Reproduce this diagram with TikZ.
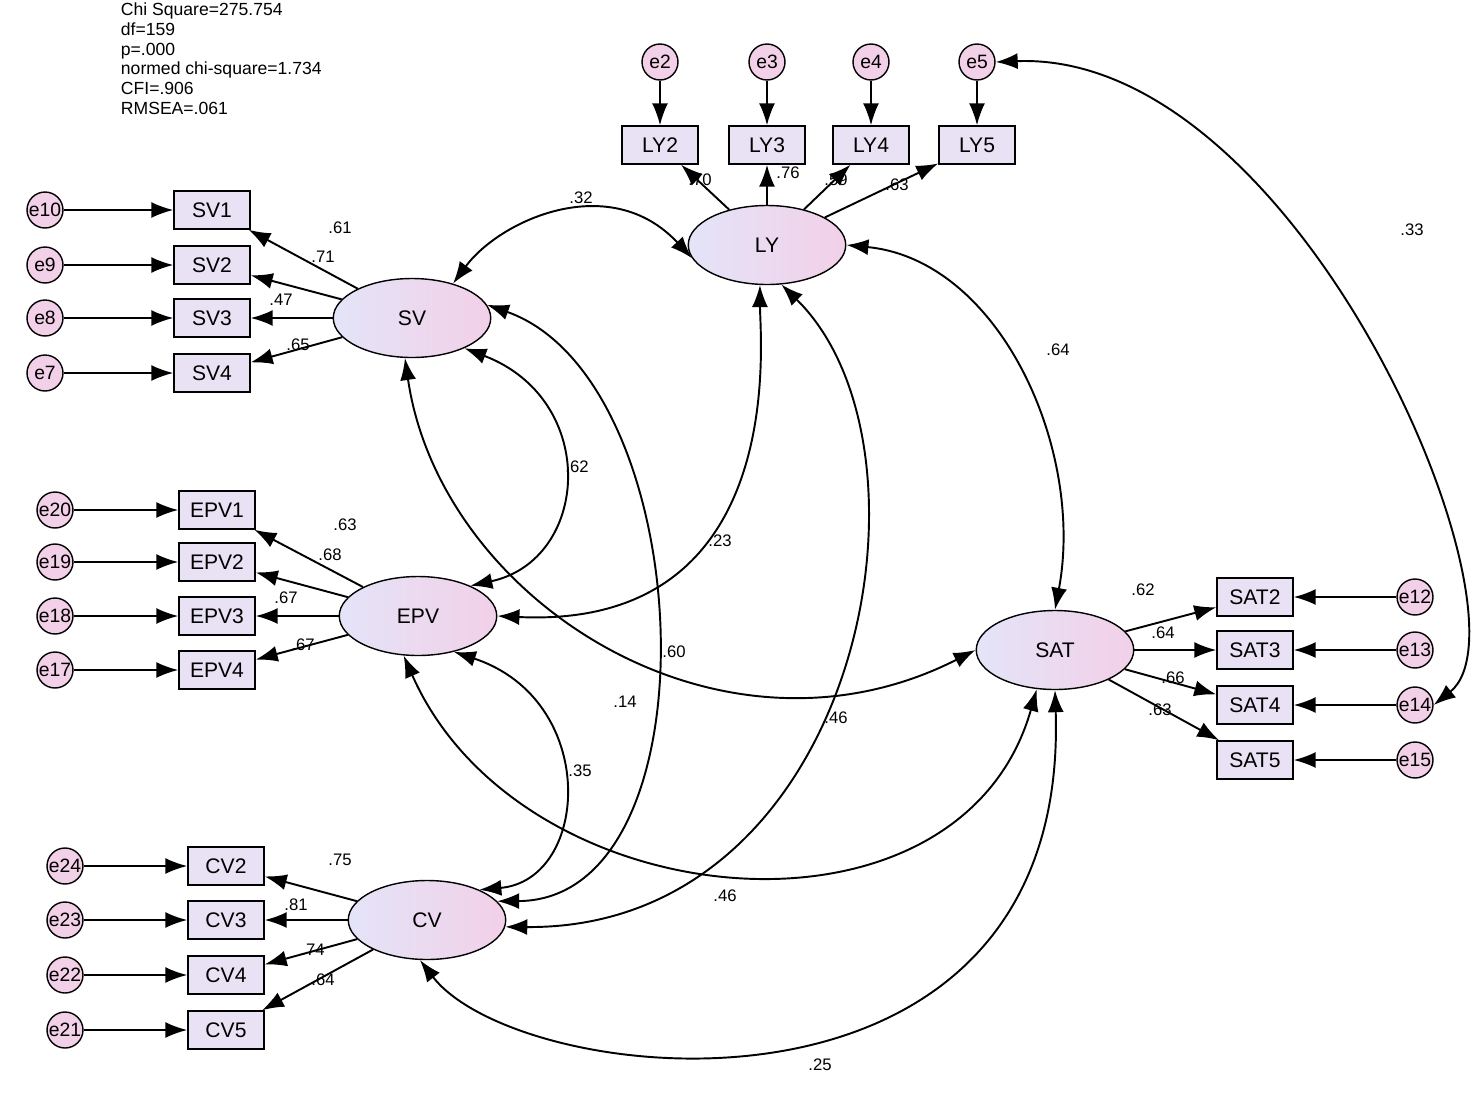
\documentclass[tikz,border=0pt]{standalone}
\usepackage{fontspec}
\setmainfont{Liberation Sans}
\usetikzlibrary{arrows.meta,shapes.geometric}
\definecolor{boxc}{RGB}{232,226,244}
\definecolor{ell1}{RGB}{228,228,248}
\definecolor{ell2}{RGB}{242,208,232}
\begin{document}
\begin{tikzpicture}[x=0.02cm,y=-0.02cm,
  tip/.style={-{Latex[length=4.4mm,width=3.2mm]}},
  dbl/.style={{Latex[length=4.4mm,width=3.2mm]}-{Latex[length=4.4mm,width=3.2mm]}},
  every path/.style={line width=1.1pt},
  obs/.style={draw,thick,fill=boxc,minimum width=1.52cm,minimum height=0.76cm,inner sep=0pt,font=\fontsize{12}{12}\selectfont},
  lat/.style={draw,thick,ellipse,left color=ell1,right color=ell2,minimum width=3.15cm,minimum height=1.58cm,inner sep=0pt,font=\fontsize{12}{12}\selectfont},
  err/.style={draw,thick,circle,fill=ell2,minimum size=0.72cm,inner sep=0pt,font=\fontsize{11}{11}\selectfont},
  lb/.style={font=\fontsize{9.5}{9.5}\selectfont,inner sep=1pt}]
\useasboundingbox (0,0) rectangle (1472,1096);
\node[anchor=north west,align=left,font=\fontsize{10}{11.2}\selectfont,inner sep=0pt] (info) at (120,2)
 {Chi Square=275.754\\df=159\\p=.000\\normed chi-square=1.734\\CFI=.906\\RMSEA=.061};
% latent
\node[lat] (LY) at (767,245) {LY};
\node[lat] (SV) at (412,318) {SV};
\node[lat] (EPV) at (418,616) {EPV};
\node[lat] (CV) at (427,920) {CV};
\node[lat] (SAT) at (1055,650) {SAT};
\foreach \n/\x/\e in {LY2/660/e2,LY3/767/e3,LY4/871/e4,LY5/977/e5}{
  \node[obs] (\n) at (\x,145) {\n};
  \node[err] (\e) at (\x,62) {\e};
  \draw[tip] (\e) -- (\n);
  \draw[tip] (LY) -- (\n);}
\foreach \n/\y/\e in {SV1/210/e10,SV2/265/e9,SV3/318/e8,SV4/373/e7}{
  \node[obs] (\n) at (212,\y) {\n};
  \node[err] (\e) at (45,\y) {\e};
  \draw[tip] (\e) -- (\n);
  \draw[tip] (SV) -- (\n);}
\foreach \n/\y/\e in {EPV1/510/e20,EPV2/562/e19,EPV3/616/e18,EPV4/670/e17}{
  \node[obs] (\n) at (217,\y) {\n};
  \node[err] (\e) at (55,\y) {\e};
  \draw[tip] (\e) -- (\n);
  \draw[tip] (EPV) -- (\n);}
\foreach \n/\y/\e in {CV2/866/e24,CV3/920/e23,CV4/975/e22,CV5/1030/e21}{
  \node[obs] (\n) at (226,\y) {\n};
  \node[err] (\e) at (65,\y) {\e};
  \draw[tip] (\e) -- (\n);
  \draw[tip] (CV) -- (\n);}
\foreach \n/\y/\e in {SAT2/597/e12,SAT3/650/e13,SAT4/705/e14,SAT5/760/e15}{
  \node[obs] (\n) at (1255,\y) {\n};
  \node[err] (\e) at (1415,\y) {\e};
  \draw[tip] (\e) -- (\n);
  \draw[tip] (SAT) -- (\n);}
\foreach \t/\x/\y in {.70/700/180,.76/788/173,.59/836/180,.63/897/185,
 .61/340/228,.71/323/257,.47/281/300,.65/298/345,
 .63/345/525,.68/330/555,.67/286/598,.67/303/645,
 .75/340/860,.81/296/905,.74/313/950,.64/323/980,
 .62/1143/590,.64/1163/633,.66/1173/678,.63/1160/710}
 \node[lb] at (\x,\y) {\t};
\draw[dbl] (LY.190) .. controls (610,170) and (500,220) .. (SV.40);
\draw[dbl] (LY.east) .. controls (1000,260) and (1085,450) .. (SAT.north);
\draw[dbl] (e5.east) .. controls (1300,50) and (1540,620) .. (e14.east);
\draw[dbl] (SV.-30) .. controls (600,400) and (590,560) .. (EPV.30);
\draw[dbl] (LY.-100) .. controls (760,340) and (790,630) .. (EPV.east);
\draw[dbl] (SV.10) .. controls (700,380) and (720,900) .. (CV.15);
\draw[dbl] (LY.-70) .. controls (950,450) and (860,930) .. (CV.-5);
\draw[dbl] (SV.-100) .. controls (440,600) and (720,780) .. (SAT.west);
\draw[dbl] (EPV.-45) .. controls (600,700) and (590,880) .. (CV.30);
\draw[dbl] (EPV.-110) .. controls (520,920) and (960,960) .. (SAT.-115);
\draw[dbl] (CV.-100) .. controls (520,1090) and (1070,1150) .. (SAT.-90);
\foreach \t/\x/\y in {.32/581/198,.64/1058/350,.33/1412/230,.62/577/467,.23/720/541,
 .60/674/652,.14/625/702,.46/836/718,.35/580/771,.46/725/896,.25/820/1065}
 \node[lb] at (\x,\y) {\t};
\end{tikzpicture}
\end{document}
